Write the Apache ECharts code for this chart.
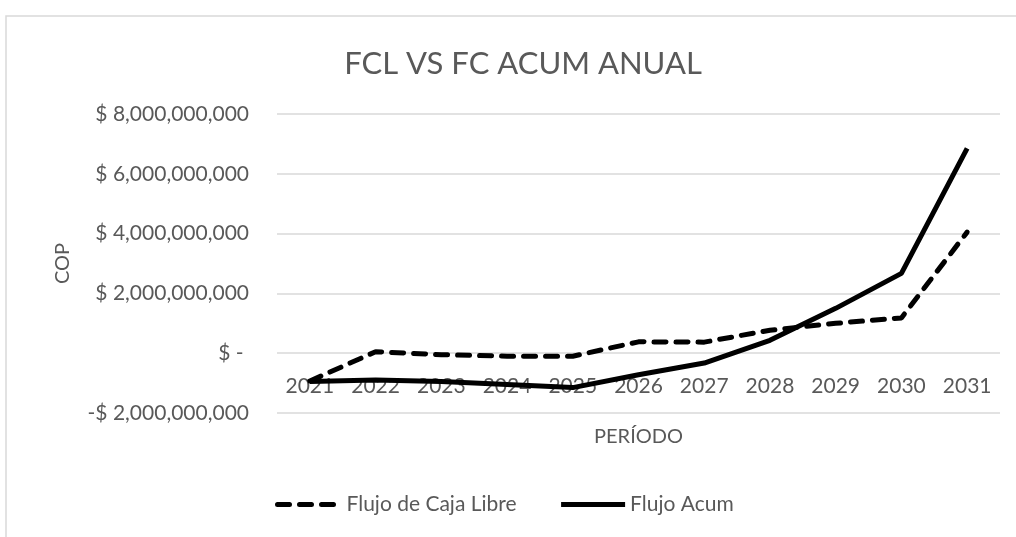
<!DOCTYPE html>
<html>
<head>
<meta charset="utf-8">
<script src="https://cdn.jsdelivr.net/npm/echarts@6/dist/echarts.min.js"></script>
<style>
  html, body { margin: 0; padding: 0; background: #fff; }
  #chart { width: 1016px; height: 537px; }
</style>
</head>
<body>
<div id="chart"></div>
<script>
// years on the x axis
const years = ['2021', '2022', '2023', '2024', '2025', '2026', '2027', '2028', '2029', '2030', '2031']
// values, in COP
const flujoCajaLibre = [-930000000, 50000000, -50000000, -100000000, -100000000, 380000000, 370000000, 770000000, 1000000000, 1180000000, 4050000000]
const flujoAcum = [-950000000, -900000000, -950000000, -1050000000, -1150000000, -720000000, -330000000, 430000000, 1500000000, 2670000000, 6850000000]
// y axis range
const yMin = -2000000000
const yMax = 8000000000
const yStep = 2000000000

const font = 'Lato, "Open Sans", sans-serif'
const grey = '#595959'

function fmtCop(v) {
  if (v === 0) return '$ - '
  const s = Math.abs(v).toLocaleString('en-US')
  return (v < 0 ? '-$ ' : '$ ') + s
}

const option = {
  animation: false,
  backgroundColor: '#fff',
  textStyle: { fontFamily: font },
  graphic: [
    {
      type: 'rect',
      shape: { x: 6, y: 16, width: 1030, height: 560 },
      style: { fill: 'none', stroke: '#d9d9d9', lineWidth: 1.5 },
      silent: true,
    },
  ],
  title: {
    text: 'FCL VS FC ACUM ANUAL',
    left: 518,
    textAlign: 'center',
    top: 43,
    textStyle: { fontFamily: font, fontSize: 31, fontWeight: 'normal', color: grey },
  },
  legend: {
    bottom: 17,
    left: 270,
    itemWidth: 64,
    itemHeight: 12,
    itemGap: 42,
    itemStyle: { opacity: 0 },
    lineStyle: { width: 5 },
    textStyle: { fontFamily: font, fontSize: 21, color: grey },
    data: ['Flujo de Caja Libre', 'Flujo Acum'],
  },
  grid: {
    left: 277,
    right: 16,
    top: 114,
    bottom: 124,
  },
  xAxis: {
    type: 'category',
    data: years,
    boundaryGap: true,
    name: 'PERÍODO',
    nameLocation: 'middle',
    nameGap: 14,
    nameMoveOverlap: false,
    nameTextStyle: { fontFamily: font, fontSize: 20, color: grey, verticalAlign: 'top' },
    axisLine: { show: false, onZero: false },
    axisTick: { show: false },
    axisLabel: { margin: -37, fontFamily: font, fontSize: 21, color: grey },
  },
  yAxis: {
    type: 'value',
    min: yMin,
    max: yMax,
    interval: yStep,
    name: 'COP',
    nameLocation: 'middle',
    nameGap: 204,
    nameRotate: 90,
    nameTextStyle: { fontFamily: font, fontSize: 20, color: grey },
    axisLine: { show: false },
    axisTick: { show: false },
    axisLabel: { margin: 28, fontFamily: font, fontSize: 21, color: grey, formatter: fmtCop },
    splitLine: { lineStyle: { color: '#d9d9d9', width: 1.5 } },
  },
  series: [
    {
      name: 'Flujo de Caja Libre',
      type: 'line',
      data: flujoCajaLibre,
      symbol: 'none',
      color: '#000',
      lineStyle: { color: '#000', width: 5, type: [12, 10], cap: 'round' },
    },
    {
      name: 'Flujo Acum',
      type: 'line',
      data: flujoAcum,
      symbol: 'none',
      color: '#000',
      lineStyle: { color: '#000', width: 5 },
    },
  ],
}

const myChart = echarts.init(document.getElementById('chart'))
myChart.setOption(option)
</script>
</body>
</html>
